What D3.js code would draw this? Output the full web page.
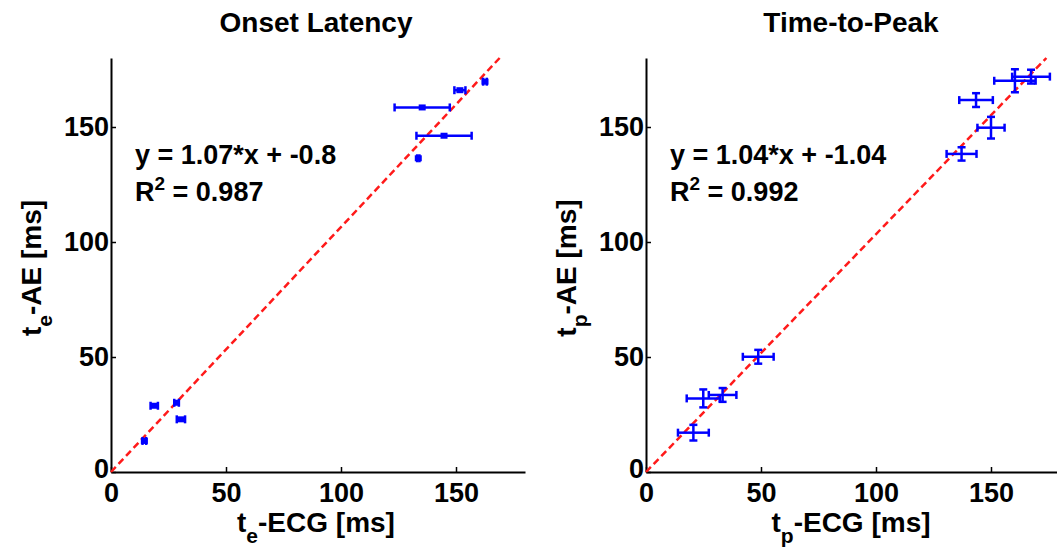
<!DOCTYPE html>
<html lang="en">
<head>
  <meta charset="UTF-8">
  <title>Onset Latency / Time-to-Peak</title>
  <style>
    body { margin: 0; background: #fff; }
    text { font-family: Arial, "Liberation Sans", sans-serif; font-weight: bold; fill: #000; }
  </style>
</head>
<body>
  <script src="https://d3js.org/d3.v7.min.js"></script>
  <script>
    // Onset latency (left panel)
    const onsetX    = [162.6, 151.7, 135.3, 144.8, 133.6, 18.8, 28.5, 30.4, 14.5];
    const onsetY    = [169.7, 166.0, 158.5, 146.2, 136.4, 28.8, 30.1, 22.9, 13.5];
    const onsetXErr = [0.8, 2.4, 12.0, 12.0, 0.5, 1.6, 1.0, 1.8, 0.8];

    // Time-to-peak (right panel)
    const peakX    = [48.8, 33.3, 24.9, 20.6, 137.2, 150.0, 143.5, 160.4, 167.4];
    const peakY    = [50.1, 33.5, 32.0, 17.1, 138.3, 149.7, 161.7, 170.1, 171.9];
    const peakXErr = [6.7, 6.0, 7.2, 6.7, 6.5, 5.9, 7.3, 9.0, 8.2];
    const peakYErr = [3.0, 3.0, 3.9, 3.4, 2.9, 4.7, 3.0, 5.0, 3.0];

    const ticks = [0, 50, 100, 150];
    const domainMax = 180;

    const width = 1057, height = 553;
    const svg = d3.select('body').append('svg')
      .attr('width', width)
      .attr('height', height);

    function panel(opt) {
      const x = d3.scaleLinear().domain([0, domainMax]).range([opt.left, opt.left + 414]);
      const y = d3.scaleLinear().domain([0, domainMax]).range([472, 58]);
      const g = svg.append('g');

      // axes: left and bottom only, ticks pointing inward
      const xAxis = g.append('g')
        .attr('transform', `translate(0, ${y(0)})`)
        .call(d3.axisBottom(x).tickValues(ticks).tickSizeInner(-5).tickSizeOuter(0));
      const yAxis = g.append('g')
        .attr('transform', `translate(${x(0)}, 0)`)
        .call(d3.axisLeft(y).tickValues(ticks).tickSizeInner(-5).tickSizeOuter(0));
      [xAxis, yAxis].forEach(a => {
        a.select('.domain').attr('stroke', '#000').attr('stroke-width', 2);
        a.selectAll('.tick line').attr('stroke', '#000').attr('stroke-width', 1.5);
        a.selectAll('.tick text').style('font-size', '27px').attr('fill', '#000');
      });
      xAxis.selectAll('.tick text').attr('y', 30).attr('dy', null);
      yAxis.selectAll('.tick text').attr('x', -2).attr('dy', '0.33em');
      yAxis.selectAll('.tick').filter(d => d === 0).select('text').attr('dy', '0.2em');

      // regression line
      const xEnd = Math.min(domainMax, (domainMax - opt.b) / opt.a);
      const fit = [0, xEnd].map(v => [x(v), y(Math.max(0, opt.a * v + opt.b))]);
      g.append('path')
        .attr('d', d3.line()(fit))
        .attr('stroke', '#ff1a1a')
        .attr('stroke-width', 2.5)
        .attr('stroke-dasharray', '7,4')
        .attr('fill', 'none');

      // error bars
      const blue = '#0000ff';
      const cap = 4;
      const pts = opt.xs.map((v, i) => ({ x: v, y: opt.ys[i], ex: opt.xErr[i], ey: opt.yErr ? opt.yErr[i] : 0 }));
      const bars = g.append('g').attr('stroke', blue).attr('stroke-width', 2.5).attr('fill', 'none');
      pts.forEach(d => {
        const cy = y(d.y), cx = x(d.x);
        const x0 = x(d.x - d.ex), x1 = x(d.x + d.ex);
        bars.append('line').attr('x1', x0).attr('x2', x1).attr('y1', cy).attr('y2', cy);
        bars.append('line').attr('x1', x0).attr('x2', x0).attr('y1', cy - cap).attr('y2', cy + cap);
        bars.append('line').attr('x1', x1).attr('x2', x1).attr('y1', cy - cap).attr('y2', cy + cap);
        if (d.ey) {
          const y0 = y(d.y - d.ey), y1 = y(d.y + d.ey);
          bars.append('line').attr('x1', cx).attr('x2', cx).attr('y1', y0).attr('y2', y1);
          bars.append('line').attr('x1', cx - cap).attr('x2', cx + cap).attr('y1', y0).attr('y2', y0);
          bars.append('line').attr('x1', cx - cap).attr('x2', cx + cap).attr('y1', y1).attr('y2', y1);
        }
      });
      if (opt.markers) {
        g.append('g').selectAll('rect')
          .data(pts)
          .join('rect')
          .attr('x', d => x(d.x) - 3.5)
          .attr('y', d => y(d.y) - 3)
          .attr('width', 7)
          .attr('height', 6)
          .attr('fill', blue);
      }

      const cxMid = (opt.left + opt.left + 414) / 2 - 2;

      // title
      g.append('text')
        .attr('x', cxMid).attr('y', 32)
        .attr('text-anchor', 'middle')
        .style('font-size', '28px')
        .text(opt.title);

      // annotation
      g.append('text')
        .attr('x', opt.left + 24).attr('y', 164)
        .style('font-size', '27px')
        .text(opt.eq);
      const r = g.append('text')
        .attr('x', opt.left + 24).attr('y', 201)
        .style('font-size', '27px');
      r.append('tspan').text('R');
      r.append('tspan').attr('dy', -11).style('font-size', '19px').text('2');
      r.append('tspan').attr('dy', 11).text(' = ' + opt.r2);

      // x label
      const xl = g.append('text')
        .attr('x', cxMid).attr('y', 532)
        .attr('text-anchor', 'middle')
        .style('font-size', '28px');
      xl.append('tspan').text('t');
      xl.append('tspan').attr('dy', 11).style('font-size', '21px').text(opt.sub);
      xl.append('tspan').attr('dy', -11).text('-ECG [ms]');

      // y label
      const yl = g.append('text')
        .attr('transform', `translate(${opt.left - 70}, 268) rotate(-90)`)
        .attr('text-anchor', 'middle')
        .style('font-size', '28px');
      yl.append('tspan').text('t');
      yl.append('tspan').attr('dy', 11).style('font-size', '21px').text(opt.sub);
      yl.append('tspan').attr('dy', -11).text('-AE [ms]');
    }

    panel({
      left: 111, title: 'Onset Latency', sub: 'e',
      xs: onsetX, ys: onsetY, xErr: onsetXErr, yErr: null, markers: true,
      a: 1.07, b: -0.8, eq: 'y = 1.07*x + -0.8', r2: '0.987'
    });
    panel({
      left: 646, title: 'Time-to-Peak', sub: 'p',
      xs: peakX, ys: peakY, xErr: peakXErr, yErr: peakYErr, markers: false,
      a: 1.04, b: -1.04, eq: 'y = 1.04*x + -1.04', r2: '0.992'
    });
  </script>
</body>
</html>
